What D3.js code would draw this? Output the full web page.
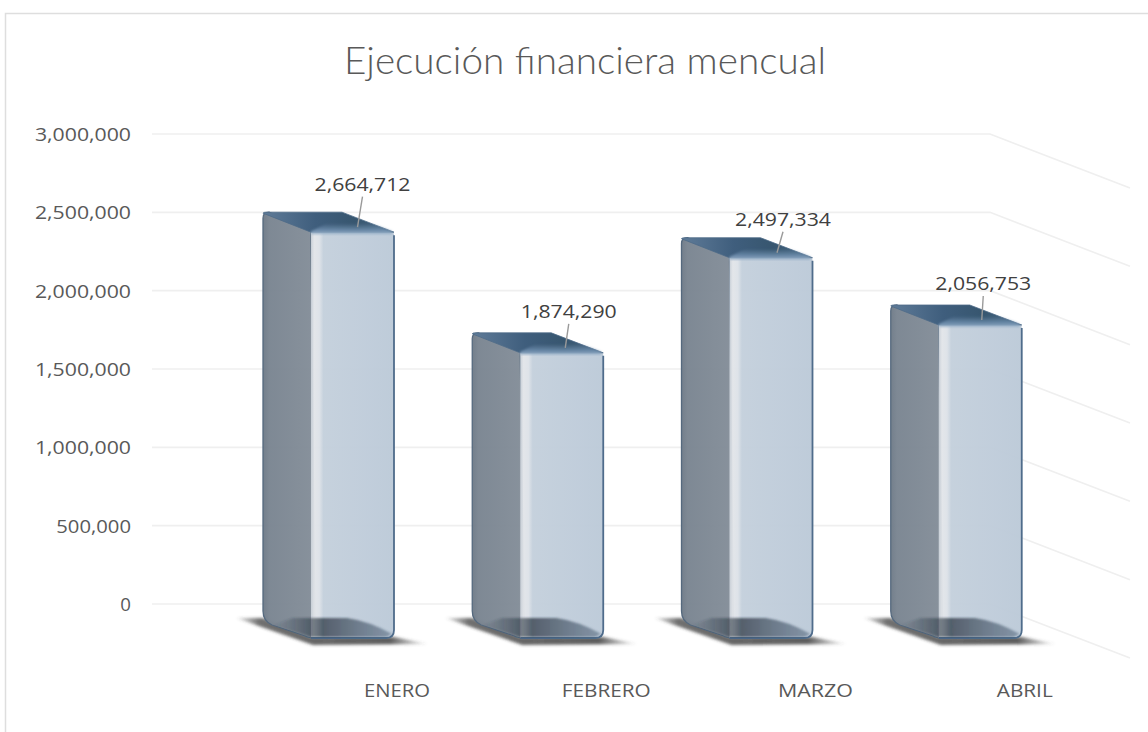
<!DOCTYPE html>
<html><head><meta charset="utf-8">
<script src="https://cdn.jsdelivr.net/npm/d3@7/dist/d3.min.js"></script>
<style>html,body{margin:0;padding:0;background:#fff}svg{display:block}</style>
</head><body><svg id="c" width="1148" height="732"></svg>
<script>
const titleText = "Ejecución financiera mencual";
const categories = ["ENERO","FEBRERO","MARZO","ABRIL"];
const values = [2664712,1874290,2497334,2056753];
const tickValues = [0,500000,1000000,1500000,2000000,2500000,3000000];
// layout-only nudges of the data labels, relative to the top of each bar
const labelNudgeX = [10,7,12,3];
const labelNudgeY = [-47.5,-41,-38,-41];

const svg = d3.select("#c");
const font = "'Open Sans','Noto Sans',sans-serif";
const wallY = d3.scaleLinear().domain([0,3000000]).range([604,134]);
const barY  = d3.scaleLinear().domain([0,3000000]).range([638,180]);
const barX  = d3.scaleBand().domain(categories).range([311,1148]).paddingInner(0).paddingOuter(0).align(0);
const frontW = 83, depthX = 48, depthY = 19;
const fmt = d3.format(",");

const defs = svg.append("defs");
function lin(id,x2,y2,stops){
  const g = defs.append("linearGradient").attr("id",id).attr("x1",0).attr("y1",0).attr("x2",x2).attr("y2",y2);
  stops.forEach(s=>g.append("stop").attr("offset",s[0]).attr("stop-color",s[1]).attr("stop-opacity",s[2]===undefined?1:s[2]));
}
lin("front",1,0,[[0,"#c9d0d8"],[0.04,"#e2e5e9"],[0.1,"#dde2e8"],[0.15,"#c4d0dc"],[0.7,"#bfccda"],[1,"#bccad8"]]);
lin("side",1,0,[[0,"#6f7b88"],[0.12,"#7a8591"],[0.9,"#838d98"],[1,"#949ca6"]]);
lin("top",1,0,[[0,"#5f7b98"],[0.4,"#3f5e7d"],[0.7,"#37566f"],[1,"#466784"]]);
lin("topEdge",0,1,[[0,"#6d8cab",0],[0.6,"#7595b5",0.75],[1,"#9db4cb",0.9]]);
lin("bottom",1,0,[[0,"#26323f",0],[0.3,"#26323f",0.5],[0.42,"#26323f",0.72],[0.75,"#2f4053",0.55],[1,"#3d5269",0.45]]);
lin("shadow",1,0,[[0,"#444",0.1],[0.12,"#333",0.7],[0.8,"#333",0.8],[1,"#555",0.05]]);
const blur = defs.append("filter").attr("id","blur").attr("x","-10%").attr("y","-50%").attr("width","120%").attr("height","200%");
blur.append("feGaussianBlur").attr("stdDeviation",1.8);
const soft = defs.append("filter").attr("id","soft").attr("x","-10%").attr("y","-10%").attr("width","120%").attr("height","120%");
soft.append("feGaussianBlur").attr("stdDeviation",1);

// frame
svg.append("path").attr("d","M5.5,732V13.5H1148").attr("fill","none").attr("stroke","#dedede").attr("stroke-width",1.5);

// title
svg.append("text").attr("x",585).attr("y",74).attr("text-anchor","middle")
  .attr("font-family","Lato,'Open Sans',sans-serif").attr("font-weight",300).attr("font-size",36.5)
  .attr("fill","#595959").attr("textLength",482).attr("lengthAdjust","spacingAndGlyphs").text(titleText);

// gridlines: back wall plus receding side wall
svg.append("g").selectAll("path").data(tickValues).join("path")
  .attr("d",d=>`M152,${wallY(d)}H990L1130,${wallY(d)+54}`)
  .attr("fill","none").attr("stroke","#efefef").attr("stroke-width",1.6);

// y axis labels
svg.append("g").selectAll("text").data(tickValues).join("text")
  .attr("x",131).attr("y",d=>wallY(d)+7).attr("text-anchor","end")
  .attr("font-family",font).attr("font-size",19).attr("fill","#595959")
  .attr("textLength",d=>fmt(d).length*10.67).attr("lengthAdjust","spacingAndGlyphs").text(fmt);

// bars
const bars = svg.append("g").selectAll("g").data(categories.map((c,i)=>({c,v:values[i],i}))).join("g")
  .attr("transform",d=>`translate(${barX(d.c)},0)`);
const base = barY(0);

bars.append("path").attr("filter","url(#blur)").attr("fill","url(#shadow)")
  .attr("d",`M-75,${base-20}L-48,${base-20}L0,${base-1}L${frontW},${base-1}L${frontW+34},${base+6}L2,${base+7}Z`);

// side face
bars.append("path").attr("fill","url(#side)").attr("stroke","#55697e").attr("stroke-width",1.3).attr("fill-opacity",0.97)
  .attr("d",d=>{
    const t = barY(d.v);
    return `M0,${t}L${-depthX+6},${t-depthY}Q${-depthX},${t-depthY} ${-depthX},${t-depthY+6}`+
      `V${base-depthY-8}Q${-depthX},${base-depthY+2} ${-depthX+9},${base-depthY+6}L-6,${base-2}Q-3,${base} 4,${base}Z`;
  });
// front face
bars.append("path").attr("fill","url(#front)").attr("fill-opacity",0.97)
  .attr("d",d=>`M0,${barY(d.v)}H${frontW-3}Q${frontW},${barY(d.v)} ${frontW},${barY(d.v)+4}V${base-8}Q${frontW},${base} ${frontW-8},${base}H0Z`);
bars.append("path").attr("fill","none").attr("stroke","#4f6c8b").attr("stroke-width",1.8)
  .attr("d",d=>`M${frontW},${barY(d.v)+4}V${base-8}Q${frontW},${base} ${frontW-8},${base}H0`);
// see-through floor of the bar
bars.append("path").attr("fill","url(#bottom)").attr("filter","url(#soft)")
  .attr("d",`M-38,${base-13}L-18,${base-20}L36,${base-20}Q58,${base-17} ${frontW-2},${base-4}L${frontW-8},${base-1}L0,${base-1}L-6,${base-3}Z`);
// top face
bars.append("path").attr("fill","url(#top)").attr("stroke","#4e6b88").attr("stroke-width",0.8)
  .attr("stroke-linejoin","round")
  .attr("d",d=>{const t=barY(d.v);return `M${-depthX},${t-depthY+1}Q${-depthX},${t-depthY} ${-depthX+3},${t-depthY}H${frontW-depthX-4}L${frontW},${t+1}H0Z`;});
bars.append("path").attr("fill","url(#topEdge)").attr("filter","url(#soft)")
  .attr("d",d=>{const t=barY(d.v);return `M0,${t}L${16},${t-8}H${frontW-22}L${frontW-2},${t}V${t+3}H0Z`;});

// data labels and leader lines
const labelX = d=>frontW/2+labelNudgeX[d.i], labelY = d=>barY(d.v)+labelNudgeY[d.i];
bars.append("line").attr("stroke","#9a9a9a").attr("stroke-width",1.4)
  .attr("x1",d=>labelX(d)).attr("y1",d=>labelY(d)+13)
  .attr("x2",d=>frontW/2+labelNudgeX[d.i]/2).attr("y2",d=>barY(d.v)-4);
bars.append("text").attr("x",labelX).attr("y",d=>labelY(d)+7).attr("text-anchor","middle")
  .attr("font-family",font).attr("font-size",19).attr("fill","#404040")
  .attr("textLength",96).attr("lengthAdjust","spacingAndGlyphs").text(d=>fmt(d.v));

// category labels
const catWidth = [66,89,75,56];
bars.append("text").attr("x",frontW+3).attr("y",697).attr("text-anchor","middle")
  .attr("font-family",font).attr("font-size",18).attr("fill","#595959")
  .attr("textLength",d=>catWidth[d.i]).attr("lengthAdjust","spacingAndGlyphs").text(d=>d.c);
</script></body></html>
